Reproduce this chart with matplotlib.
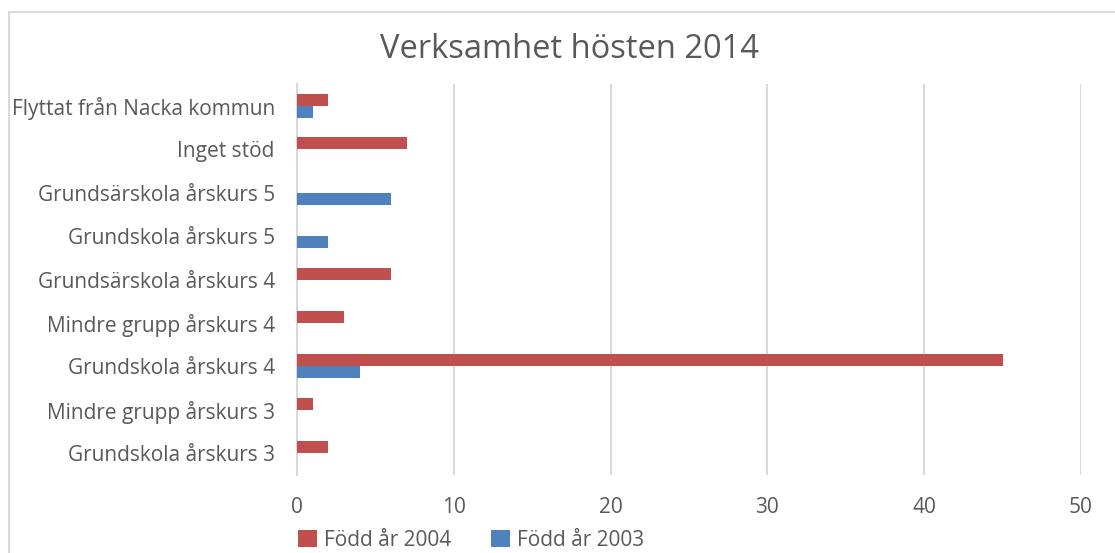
import matplotlib.pyplot as plt
import numpy as np
from matplotlib.patches import Rectangle

categories = ["Grundskola årskurs 3", "Mindre grupp årskurs 3", "Grundskola årskurs 4",
              "Mindre grupp årskurs 4", "Grundsärskola årskurs 4", "Grundskola årskurs 5",
              "Grundsärskola årskurs 5", "Inget stöd", "Flyttat från Nacka kommun"]
born_2004 = [2, 1, 45, 3, 6, 0, 0, 7, 2]
born_2003 = [0, 0, 4, 0, 0, 2, 6, 0, 1]
x_ticks = [0, 10, 20, 30, 40, 50]

RED = "#C0504D"
BLUE = "#4F81BD"
TEXT = "#595959"
GRID = "#D9D9D9"

plt.rcParams["font.family"] = ["Open Sans", "DejaVu Sans"]

fig = plt.figure(figsize=(11.15, 5.53), dpi=100)
ax = fig.add_axes([297 / 1115, 78 / 553, 784 / 1115, 391 / 553])

# chart frame
fig.patches.append(Rectangle((9 / 1115, -0.05), 1.1, (553 - 12) / 553 + 0.05,
                             transform=fig.transFigure, fill=False,
                             edgecolor=GRID, linewidth=1.5))

y = np.arange(len(categories))
h = 0.276
ax.barh(y + h / 2, born_2004, height=h, color=RED, label="Född år 2004", zorder=3)
ax.barh(y - h / 2, born_2003, height=h, color=BLUE, label="Född år 2003", zorder=3)

ax.set_xlim(0, 50)
ax.set_ylim(-0.5, len(categories) - 0.5)
ax.set_xticks(x_ticks)
ax.set_yticks(y)
ax.set_yticklabels(categories)
ax.tick_params(axis="both", length=0, labelsize=15, colors=TEXT)
ax.tick_params(axis="x", pad=16)
ax.tick_params(axis="y", pad=16)
ax.grid(axis="x", color=GRID, linewidth=1.5, zorder=0)
for side in ["top", "right", "bottom"]:
    ax.spines[side].set_visible(False)
ax.spines["left"].set_color(GRID)
ax.spines["left"].set_linewidth(1.5)

fig.text(570 / 1115, 1 - 50 / 553, "Verksamhet hösten 2014", ha="center", va="center",
         fontsize=23.5, color=TEXT)

ax.legend(loc="upper left", bbox_to_anchor=(298 / 1115, 1 - 530 / 553),
          bbox_transform=fig.transFigure, ncol=2, frameon=False, fontsize=15,
          labelcolor=TEXT, handlelength=0.9, handleheight=0.9, handletextpad=0.35,
          columnspacing=1.9, borderpad=0, borderaxespad=0)

fig.savefig("out.png", dpi=100)
